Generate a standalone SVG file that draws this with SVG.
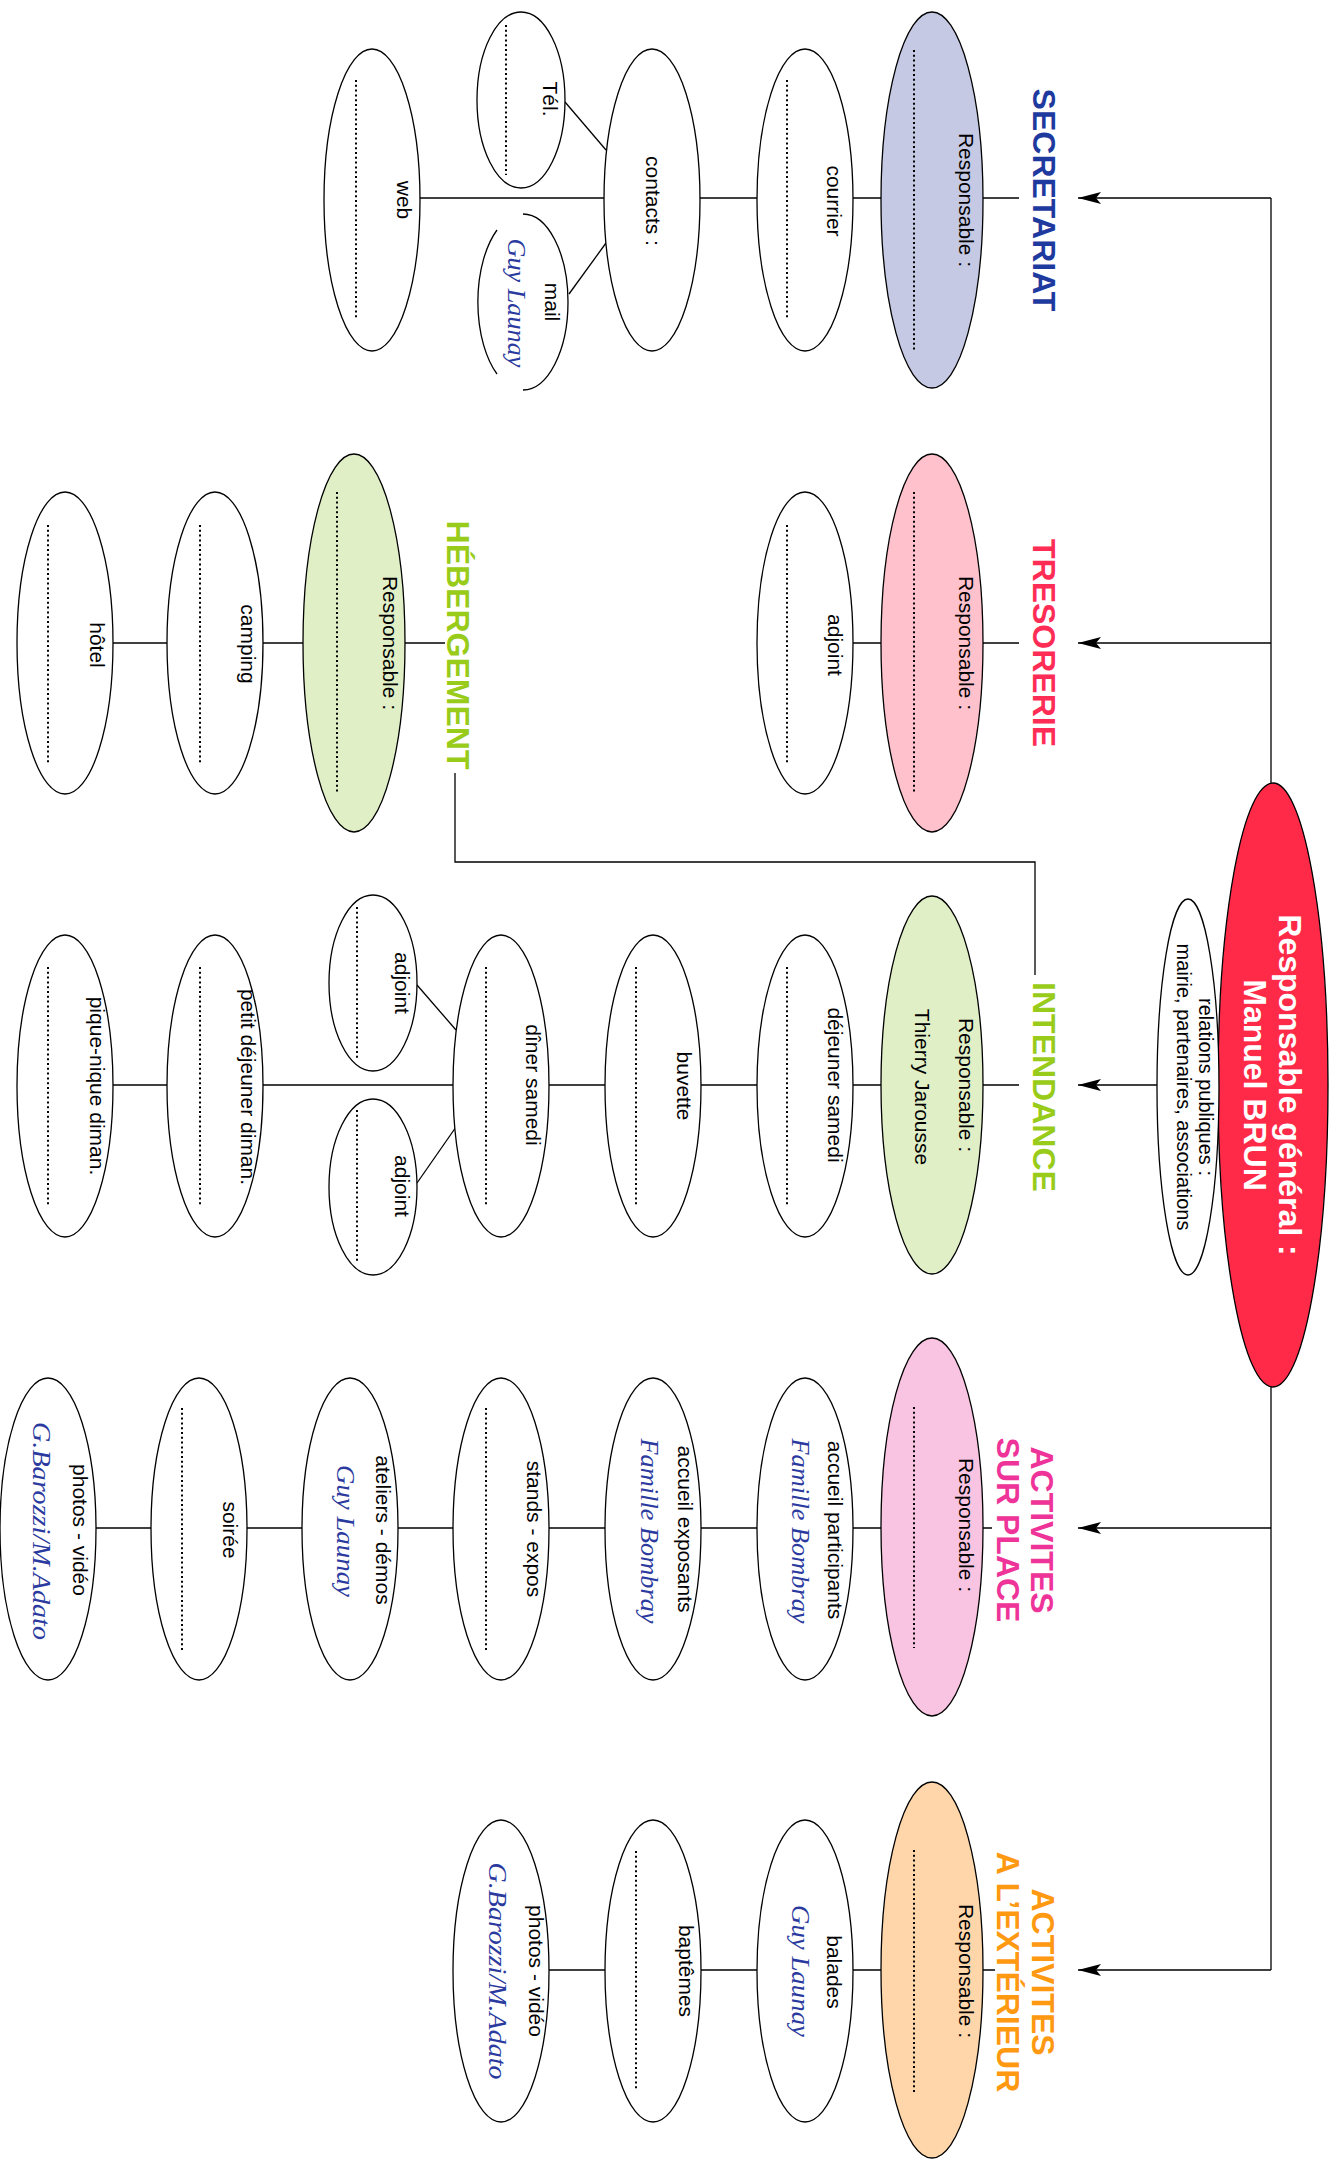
<svg xmlns="http://www.w3.org/2000/svg" width="1339" height="2163" viewBox="0 0 1339 2163">
<style>
.t{font-family:"Liberation Sans",Arial,sans-serif;font-size:21px;fill:#000;text-anchor:middle}
.r{font-family:"Liberation Sans",Arial,sans-serif;font-size:20px;fill:#000;text-anchor:middle}
.s{font-family:"Liberation Serif","Times New Roman",serif;font-style:italic;font-size:26px;fill:#2b3a9e;text-anchor:middle}
.h{font-family:"Liberation Sans",Arial,sans-serif;font-weight:bold;font-size:32px;text-anchor:middle}
.w{font-family:"Liberation Sans",Arial,sans-serif;font-weight:bold;font-size:32px;fill:#fff;text-anchor:middle}
.e{stroke:#000;stroke-width:1.3;fill:#fff}
.d{stroke:#000;stroke-width:2;stroke-dasharray:2 2.8;fill:none}
.c{stroke:#000;stroke-width:1.3;fill:none}
.blue{fill:#1f3a9f}.red{fill:#ff2d55}.green{fill:#99cc1a}.pink{fill:#ee3399}.orange{fill:#ff9911}
</style>
<defs>
<marker id="arr" viewBox="0 0 24 14" refX="24" refY="7" markerWidth="24" markerHeight="14" markerUnits="userSpaceOnUse" orient="auto">
<path d="M1,1 L24,7 L1,13 L6,7 Z" fill="#000"/>
</marker>
</defs>
<g id="connectors">
<path class="c" d="M1271,198 V1970"/>
<path class="c" d="M1271,198 H1078" marker-end="url(#arr)"/>
<path class="c" d="M1271,643 H1078" marker-end="url(#arr)"/>
<path class="c" d="M1158,1085 H1078" marker-end="url(#arr)"/>
<path class="c" d="M1271,1528 H1078" marker-end="url(#arr)"/>
<path class="c" d="M1271,1970 H1078" marker-end="url(#arr)"/>
<path class="c" d="M372,198 H1019"/>
<path class="c" d="M805,643 H1019"/>
<path class="c" d="M65,643 H445"/>
<path class="c" d="M65,1085 H1019"/>
<path class="c" d="M48,1528 H992"/>
<path class="c" d="M501,1970 H995"/>
<path class="c" d="M455,773 V862 H1035 V975"/>
<path class="c" d="M565,102 L606,150"/>
<path class="c" d="M569,294 L606,243"/>
<path class="c" d="M417,985 L456,1030"/>
<path class="c" d="M456,1127 L417,1183"/>
</g>
<g id="central">
<ellipse class="e" cx="1273" cy="1085" rx="55" ry="302" style="fill:#ff2a48"/>
<text class="w" transform="translate(1279,1085) rotate(90)">Responsable général :</text>
<text class="w" transform="translate(1244,1085) rotate(90)">Manuel BRUN</text>
</g>
<g id="relations">
<ellipse class="e" cx="1188" cy="1087" rx="31" ry="188"/>
<text class="r" transform="translate(1199,1087) rotate(90)">relations publiques :</text>
<text class="r" transform="translate(1177,1087) rotate(90)">mairie, partenaires, associations</text>
</g>
<g id="secretariat">
<ellipse class="e" cx="932" cy="200" rx="51" ry="188" style="fill:#c5c9e3"/>
<text class="t" transform="translate(959,200) rotate(90)">Responsable :</text>
<path class="d" d="M914,50 V350"/>
<text class="h blue" transform="translate(1033,200) rotate(90)">SECRETARIAT</text>
</g>
<g id="courrier">
<ellipse class="e" cx="805" cy="200" rx="48" ry="151"/>
<text class="t" transform="translate(827,201) rotate(90)">courrier</text>
<path class="d" d="M787,80 V320"/>
</g>
<g id="contacts">
<ellipse class="e" cx="652" cy="200" rx="48" ry="151"/>
<text class="t" transform="translate(646,201) rotate(90)">contacts :</text>
</g>
<g id="tel">
<ellipse class="e" cx="521" cy="100" rx="44" ry="88"/>
<text class="t" transform="translate(543,99) rotate(90)">Tél.</text>
<path class="d" d="M506,25 V175"/>
</g>
<g id="mail">
<path class="c" d="M523,214 A45,88 0 0 1 523,390 M497,374 A45,88 0 0 1 497,230"/>
<text class="t" transform="translate(545,302) rotate(90)">mail</text>
<text class="s" transform="translate(508,303) rotate(90)" textLength="129" lengthAdjust="spacingAndGlyphs">Guy Launay</text>
</g>
<g id="web">
<ellipse class="e" cx="372" cy="200" rx="48" ry="151"/>
<text class="t" transform="translate(397,200) rotate(90)">web</text>
<path class="d" d="M356,80 V320"/>
</g>
<g id="tresorerie">
<ellipse class="e" cx="932" cy="643" rx="51" ry="189" style="fill:#ffc1cc"/>
<text class="t" transform="translate(959,643) rotate(90)">Responsable :</text>
<path class="d" d="M914,492 V792"/>
<text class="h red" transform="translate(1033,643) rotate(90)">TRESORERIE</text>
</g>
<g id="tresorerie-adjoint">
<ellipse class="e" cx="805" cy="643" rx="48" ry="151"/>
<text class="t" transform="translate(828,645) rotate(90)">adjoint</text>
<path class="d" d="M787,525 V763"/>
</g>
<g id="hebergement">
<ellipse class="e" cx="354" cy="643" rx="51" ry="189" style="fill:#e0efc6"/>
<text class="t" transform="translate(383,643) rotate(90)">Responsable :</text>
<path class="d" d="M337,492 V792"/>
<text class="h green" transform="translate(447,645) rotate(90)">HÉBERGEMENT</text>
</g>
<g id="camping">
<ellipse class="e" cx="215" cy="643" rx="48" ry="151"/>
<text class="t" transform="translate(241,644) rotate(90)">camping</text>
<path class="d" d="M200,525 V763"/>
</g>
<g id="hotel">
<ellipse class="e" cx="65" cy="643" rx="48" ry="151"/>
<text class="t" transform="translate(90,645) rotate(90)">hôtel</text>
<path class="d" d="M48,525 V763"/>
</g>
<g id="intendance">
<ellipse class="e" cx="932" cy="1085" rx="51" ry="189" style="fill:#e0efc6"/>
<text class="t" transform="translate(959,1085) rotate(90)">Responsable :</text>
<text class="t" transform="translate(915,1087) rotate(90)">Thierry Jarousse</text>
<text class="h green" transform="translate(1033,1087) rotate(90)">INTENDANCE</text>
</g>
<g id="dejeuner-samedi">
<ellipse class="e" cx="805" cy="1086" rx="48" ry="151"/>
<text class="t" transform="translate(828,1085) rotate(90)">déjeuner samedi</text>
<path class="d" d="M787,967 V1205"/>
</g>
<g id="buvette">
<ellipse class="e" cx="653" cy="1086" rx="48" ry="151"/>
<text class="t" transform="translate(677,1086) rotate(90)">buvette</text>
<path class="d" d="M636,967 V1205"/>
</g>
<g id="diner-samedi">
<ellipse class="e" cx="501" cy="1086" rx="48" ry="151"/>
<text class="t" transform="translate(526,1085) rotate(90)">dîner samedi</text>
<path class="d" d="M486,967 V1205"/>
</g>
<g id="diner-adjoint-1">
<ellipse class="e" cx="373" cy="983" rx="44" ry="88"/>
<text class="t" transform="translate(395,983) rotate(90)">adjoint</text>
<path class="d" d="M357,907 V1058"/>
</g>
<g id="diner-adjoint-2">
<ellipse class="e" cx="373" cy="1187" rx="44" ry="88"/>
<text class="t" transform="translate(395,1186) rotate(90)">adjoint</text>
<path class="d" d="M357,1110 V1262"/>
</g>
<g id="petit-dejeuner">
<ellipse class="e" cx="215" cy="1086" rx="48" ry="151"/>
<text class="t" transform="translate(241,1087) rotate(90)">petit déjeuner diman.</text>
<path class="d" d="M200,967 V1205"/>
</g>
<g id="pique-nique">
<ellipse class="e" cx="65" cy="1086" rx="48" ry="151"/>
<text class="t" transform="translate(90,1086) rotate(90)">pique-nique diman.</text>
<path class="d" d="M48,967 V1205"/>
</g>
<g id="sur-place">
<ellipse class="e" cx="932" cy="1527" rx="51" ry="189" style="fill:#f9c4e1"/>
<text class="t" transform="translate(959,1525) rotate(90)">Responsable :</text>
<path class="d" d="M914,1407 V1648"/>
<text class="h pink" transform="translate(1031,1530) rotate(90)">ACTIVITES</text>
<text class="h pink" transform="translate(997,1530) rotate(90)">SUR PLACE</text>
</g>
<g id="accueil-participants">
<ellipse class="e" cx="805" cy="1529" rx="48" ry="151"/>
<text class="t" transform="translate(828,1530) rotate(90)">accueil participants</text>
<text class="s" transform="translate(792,1531) rotate(90)" textLength="185" lengthAdjust="spacingAndGlyphs">Famille Bombray</text>
</g>
<g id="accueil-exposants">
<ellipse class="e" cx="653" cy="1529" rx="48" ry="151"/>
<text class="t" transform="translate(678,1529) rotate(90)">accueil exposants</text>
<text class="s" transform="translate(641,1531) rotate(90)" textLength="185" lengthAdjust="spacingAndGlyphs">Famille Bombray</text>
</g>
<g id="stands-expos">
<ellipse class="e" cx="501" cy="1529" rx="48" ry="151"/>
<text class="t" transform="translate(527,1529) rotate(90)">stands - expos</text>
<path class="d" d="M486,1408 V1650"/>
</g>
<g id="ateliers-demos">
<ellipse class="e" cx="350" cy="1529" rx="48" ry="151"/>
<text class="t" transform="translate(376,1530) rotate(90)">ateliers - démos</text>
<text class="s" transform="translate(337,1531) rotate(90)" textLength="132" lengthAdjust="spacingAndGlyphs">Guy Launay</text>
</g>
<g id="soiree">
<ellipse class="e" cx="199" cy="1529" rx="48" ry="151"/>
<text class="t" transform="translate(223,1530) rotate(90)">soirée</text>
<path class="d" d="M182,1408 V1650"/>
</g>
<g id="photos-video-1">
<ellipse class="e" cx="48" cy="1529" rx="48" ry="151"/>
<text class="t" transform="translate(73,1530) rotate(90)">photos - vidéo</text>
<text class="s" transform="translate(33,1531) rotate(90)" textLength="218" lengthAdjust="spacingAndGlyphs">G.Barozzi/M.Adato</text>
</g>
<g id="exterieur">
<ellipse class="e" cx="932" cy="1970" rx="51" ry="188" style="fill:#ffd6aa"/>
<text class="t" transform="translate(959,1971) rotate(90)">Responsable :</text>
<path class="d" d="M914,1850 V2092"/>
<text class="h orange" transform="translate(1032,1972) rotate(90)">ACTIVITES</text>
<text class="h orange" transform="translate(997,1972) rotate(90)">A L’EXTÉRIEUR</text>
</g>
<g id="balades">
<ellipse class="e" cx="805" cy="1971" rx="48" ry="151"/>
<text class="t" transform="translate(827,1972) rotate(90)">balades</text>
<text class="s" transform="translate(792,1971) rotate(90)" textLength="132" lengthAdjust="spacingAndGlyphs">Guy Launay</text>
</g>
<g id="baptemes">
<ellipse class="e" cx="653" cy="1971" rx="48" ry="151"/>
<text class="t" transform="translate(679,1971) rotate(90)">baptêmes</text>
<path class="d" d="M636,1851 V2091"/>
</g>
<g id="photos-video-2">
<ellipse class="e" cx="501" cy="1971" rx="48" ry="151"/>
<text class="t" transform="translate(529,1971) rotate(90)">photos - vidéo</text>
<text class="s" transform="translate(489,1971) rotate(90)" textLength="217" lengthAdjust="spacingAndGlyphs">G.Barozzi/M.Adato</text>
</g>
</svg>
